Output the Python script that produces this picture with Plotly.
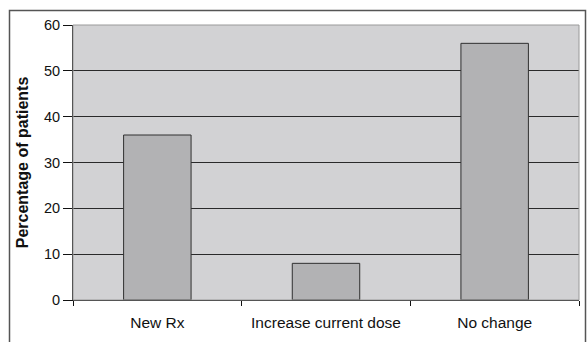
import plotly.graph_objects as go

categories = ["New Rx", "Increase current dose", "No change"]
percentages = [36, 8, 56]
y_ticks = [0, 10, 20, 30, 40, 50, 60]

W, H = 587, 342
ML, MR, MT, MB = 73, 8, 25, 42
pw, ph = W - ML - MR, H - MT - MB

def px_to_paper_x(px):
    return (px - ML) / pw

def px_to_paper_y(py):
    return (H - MB - py) / ph

fig = go.Figure(
    go.Bar(
        x=categories,
        y=percentages,
        width=0.4,
        marker=dict(color="#b2b2b4", line=dict(color="#303030", width=1)),
    )
)

fig.update_layout(
    width=W,
    height=H,
    margin=dict(l=ML, r=MR, t=MT, b=MB),
    paper_bgcolor="white",
    plot_bgcolor="#d2d2d4",
    showlegend=False,
    font=dict(family="Liberation Sans, Arial, sans-serif", size=13, color="#111"),
    shapes=[
        # plot area border
        dict(type="rect", xref="paper", yref="paper", x0=0, x1=1, y0=0, y1=1,
             line=dict(color="#9a9a9a", width=1), layer="above"),
        # outer chart frame
        dict(type="rect", xref="paper", yref="paper",
             x0=px_to_paper_x(9.5), x1=px_to_paper_x(585.5),
             y0=px_to_paper_y(350), y1=px_to_paper_y(10.5),
             line=dict(color="#555555", width=1.5)),
    ],
)

fig.update_xaxes(
    showgrid=False,
    showline=True,
    linecolor="#111",
    linewidth=1,
    ticks="outside",
    tickson="boundaries",
    ticklen=5,
    tickcolor="#111",
    tickfont=dict(size=15.5),
    ticklabelstandoff=8,
    range=[-0.5, 2.5],
)

fig.update_yaxes(
    range=[0, 60],
    tickvals=y_ticks,
    showgrid=True,
    gridcolor="#2a2a2a",
    gridwidth=1,
    showline=True,
    linecolor="#111",
    linewidth=1,
    ticks="outside",
    ticklen=9,
    tickcolor="#111",
    tickfont=dict(size=14.5),
    zeroline=False,
    title=dict(text="<b>Percentage of patients</b>", font=dict(size=16), standoff=11),
)

fig.write_html("out.html")
